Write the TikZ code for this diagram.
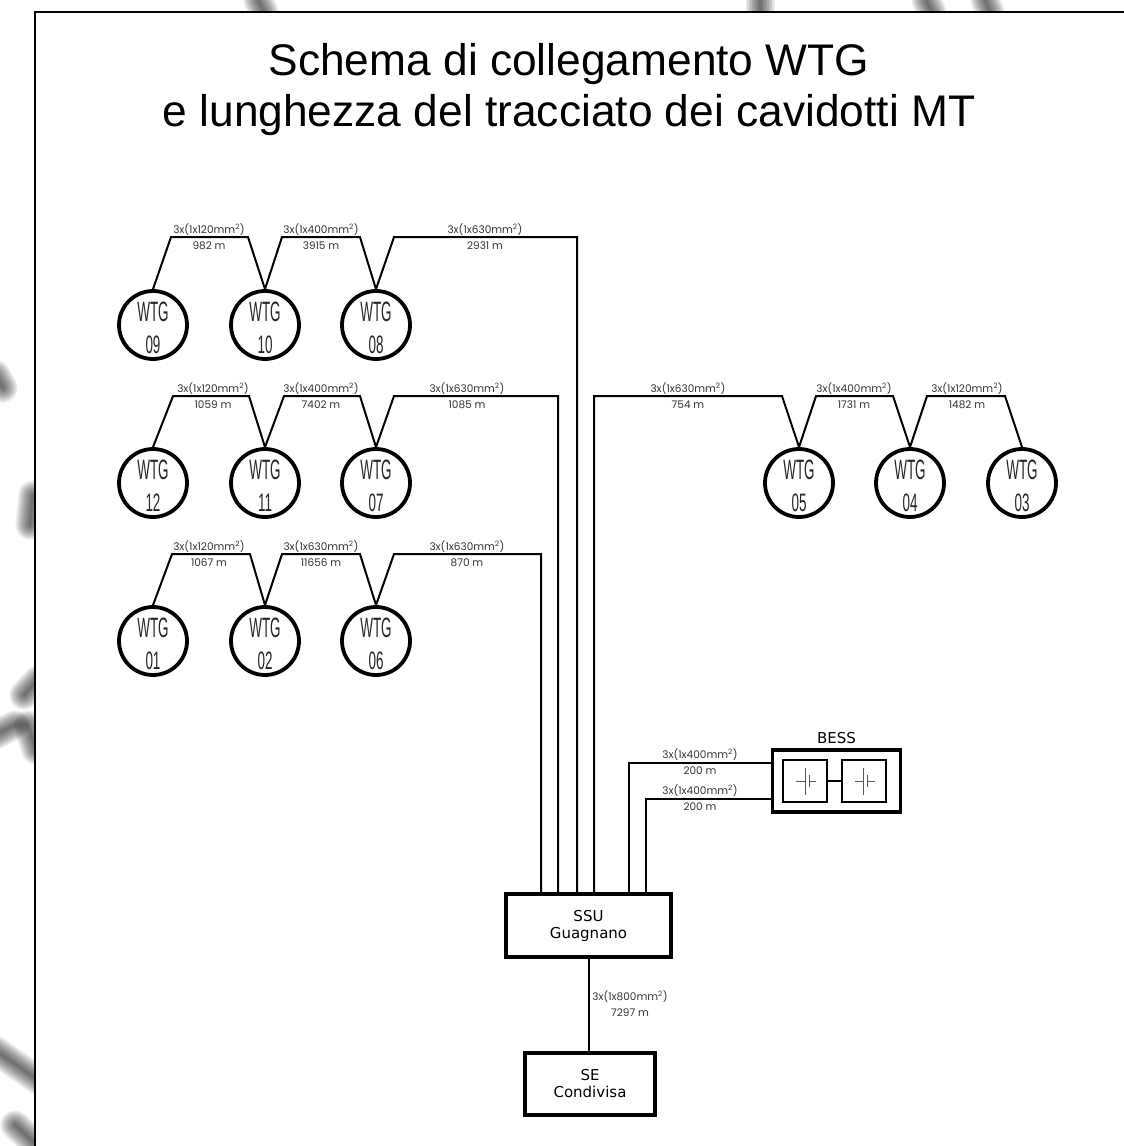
\documentclass[tikz,border=0pt]{standalone}
\usepackage{fontspec}
\setmainfont{DejaVu Sans}
\newfontfamily\titlefont{Liberation Sans}
\newfontfamily\wtgfont{Liberation Sans}
\newfontfamily\cablefont{Poppins}
\usetikzlibrary{positioning}
\tikzset{
  turbine/.style={draw,circle,line width=3.8pt,minimum size=68pt,inner sep=0pt},
  wtgtext/.style={inner sep=0pt,align=center,text=black!85,font=\wtgfont\fontsize{28}{32}\selectfont},
  cable/.style={line width=2pt},
  station/.style={draw,line width=3.2pt,inner sep=0pt,align=center,font=\fontsize{15}{17}\selectfont},
  cell/.style={draw,line width=2pt,minimum width=44pt,minimum height=42pt,inner sep=0pt},
  cablelabel/.style={inner sep=0pt,align=center,text=black!80,font=\cablefont\fontsize{10.5}{16}\selectfont}
}
\newcommand{\wtg}[3]{\node[turbine] (w#3) at (#1,#2) {};
  \node[wtgtext,yshift=-3pt] (t#3) at (#1,#2) {\scalebox{.48}[1]{WTG}\\\scalebox{.48}[.9]{#3}}}
\newcommand{\sezione}[5]{\node[cablelabel] (#1) at (#2,#3) {3x(1x#4mm\textsuperscript{2})\\#5 m}}
\newcommand{\batteria}[3]{\node[cell] (#1) at (#2,#3) {};
  \draw[black!65,line width=1pt] ([xshift=-9pt]#1.center) -- (#1.center)
    ([yshift=-13.5pt]#1.center) -- ([yshift=13.5pt]#1.center)
    ([xshift=4pt,yshift=-6pt]#1.center) -- ([xshift=4pt,yshift=6pt]#1.center)
    ([xshift=4pt]#1.center) -- ([xshift=11pt]#1.center)}
\newcommand{\macchia}[4]{\foreach \w in {2,5,...,29} {
    \draw[black,opacity=.08,line width=\w pt,line cap=round] (#1,#2) -- (#3,#4);}}

\begin{document}
\begin{tikzpicture}[x=1pt,y=-1pt]
\useasboundingbox (0,0) rectangle (1124,1146);
% sfondo
\macchia{-4}{375}{3}{388};
\macchia{33}{495}{30}{525};
\macchia{38}{680}{24}{695};
\macchia{-5}{735}{15}{725};
\macchia{28}{725}{36}{750};
\macchia{-5}{1050}{38}{1080};
\macchia{15}{1125}{38}{1146};
\macchia{258}{0}{264}{12};
\macchia{760}{0}{760}{12};
\macchia{926}{0}{932}{12};
\macchia{985}{0}{990}{12};
\fill[white] (35,12) rectangle (1130,1150);
% cornice
\draw[line width=1.6pt] (1124,12) -- (35,12) -- (35,1146);
\node[inner sep=0pt,align=center,font=\titlefont\fontsize{44.3}{51}\selectfont] (titolo) at (569,90)
  {Schema di collegamento WTG\\e lunghezza del tracciato dei cavidotti MT};
% turbine
\wtg{153}{325}{09};
\wtg{265}{325}{10};
\wtg{376}{325}{08};
\wtg{153}{483}{12};
\wtg{265}{483}{11};
\wtg{376}{483}{07};
\wtg{153}{641}{01};
\wtg{265}{641}{02};
\wtg{376}{641}{06};
\wtg{799}{483}{05};
\wtg{910}{483}{04};
\wtg{1022}{483}{03};
% cabine
\node[station,minimum width=165pt,minimum height=63pt] (ssu) at (588.5,925.5) {SSU\\Guagnano};
\node[station,minimum width=130pt,minimum height=62pt] (se) at (590,1084) {SE\\Condivisa};
\node[draw,line width=3.2pt,minimum width=128pt,minimum height=62pt] (bess) at (836.5,781) {};
\node[inner sep=0pt,font=\fontsize{15}{17}\selectfont,above=4pt of bess] (bessname) {BESS};
\batteria{bat1}{805}{781};
\batteria{bat2}{863.5}{781};
\draw[cable] (bat1) -- (bat2);
% linee
\draw[cable] (w09.north) -- ++(18,-52) -- ++(77,0) -- (w10.north) -- ++(17,-52) -- ++(78,0) -- (w08.north) -- ++(18,-52) -| ([xshift=-11.5pt]ssu.north);
\draw[cable] (w12.north) -- ++(20,-51) -- ++(76,0) -- (w11.north) -- ++(19,-51) -- ++(76,0) -- (w07.north) -- ++(18,-51) -| ([xshift=-30.5pt]ssu.north);
\draw[cable] (w01.north) -- ++(19,-51) -- ++(78,0) -- (w02.north) -- ++(17,-51) -- ++(78,0) -- (w06.north) -- ++(18,-51) -| ([xshift=-47.5pt]ssu.north);
\draw[cable] ([xshift=5.5pt]ssu.north) |- (782,396) -- (w05.north) -- ++(17,-51) -- ++(77,0) -- (w04.north) -- ++(17,-51) -- ++(78,0) -- (w03.north);
\draw[cable] ([yshift=18pt]bess.west) -| ([xshift=40.5pt]ssu.north);
\draw[cable] ([yshift=-18pt]bess.west) -| ([xshift=57.5pt]ssu.north);
\draw[cable] (ssu.south) -- (ssu.south |- se.north);
% sezioni
\sezione{c09}{209}{237}{120}{982};
\sezione{c10}{321}{237}{400}{3915};
\sezione{c08}{485}{237}{630}{2931};
\sezione{c12}{213}{396}{120}{1059};
\sezione{c11}{321}{396}{400}{7402};
\sezione{c07}{467}{396}{630}{1085};
\sezione{c01}{209}{554}{120}{1067};
\sezione{c02}{321}{554}{630}{11656};
\sezione{c06}{467}{554}{630}{870};
\sezione{c05}{688}{396}{630}{754};
\sezione{c04}{854}{396}{400}{1731};
\sezione{c03}{967}{396}{120}{1482};
\sezione{cb1}{700}{762}{400}{200};
\sezione{cb2}{700}{798}{400}{200};
\sezione{cse}{630}{1004}{800}{7297};
\end{tikzpicture}
\end{document}
